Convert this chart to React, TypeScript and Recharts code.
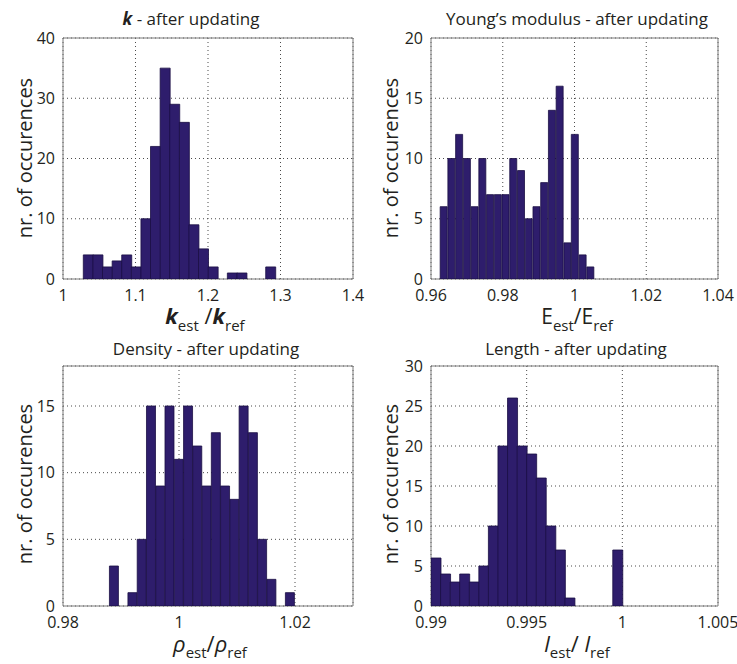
import React from "react";
import { BarChart, Bar, XAxis, YAxis, CartesianGrid, ReferenceArea } from "recharts";

const FONT = '"Open Sans", "DejaVu Sans", sans-serif';
const INK = "#231f20";
const BAR_FILL = "#2e1d6c";
const BAR_EDGE = "#1b0f44";

// Stiffness k: bin centres and occurrence counts
const kBins = [
  1.0346, 1.0479, 1.0611, 1.0744, 1.0876, 1.1008, 1.1141, 1.1273, 1.1406, 1.1538,
  1.1671, 1.1803, 1.1935, 1.2068, 1.22, 1.2333, 1.2465, 1.2598, 1.273, 1.2862,
];
const kCounts = [4, 4, 2, 3, 4, 2, 10, 22, 35, 29, 26, 9, 5, 2, 0, 1, 1, 0, 0, 2];
const kXTicks = [1, 1.1, 1.2, 1.3, 1.4];
const kYTicks = [0, 10, 20, 30, 40];

// Young's modulus E
const eBins = [
  0.96359, 0.96574, 0.9679, 0.97006, 0.97221, 0.97437, 0.97652, 0.97868, 0.98083, 0.98299,
  0.98515, 0.9873, 0.98946, 0.99161, 0.99377, 0.99592, 0.99808, 1.00015, 1.00232, 1.00448,
];
const eCounts = [6, 10, 12, 10, 6, 10, 7, 7, 7, 10, 9, 5, 6, 8, 14, 16, 3, 12, 2, 1];
const eXTicks = [0.96, 0.98, 1, 1.02, 1.04];
const eYTicks = [0, 5, 10, 15, 20];

// Density rho
const rhoBins = [
  0.9888, 0.9904, 0.99199, 0.99359, 0.99519, 0.99679, 0.99838, 0.99998, 1.00158, 1.00317,
  1.00477, 1.00637, 1.00796, 1.00956, 1.01116, 1.01276, 1.01435, 1.01595, 1.01755, 1.01914,
];
const rhoCounts = [3, 0, 1, 5, 15, 9, 15, 11, 15, 12, 9, 13, 9, 8, 15, 13, 5, 2, 0, 1];
const rhoXTicks = [0.98, 1, 1.02];
const rhoYTicks = [0, 5, 10, 15];

// Length l
const lBins = [
  0.99025, 0.99075, 0.99125, 0.99175, 0.99225, 0.99275, 0.99325, 0.99375, 0.99425, 0.99475,
  0.99525, 0.99575, 0.99625, 0.99675, 0.99725, 0.99775, 0.99825, 0.99875, 0.99925, 0.99975,
];
const lCounts = [6, 4, 3, 4, 3, 5, 10, 20, 26, 20, 19, 16, 10, 7, 1, 0, 0, 0, 0, 7];
const lXTicks = [0.99, 0.995, 1, 1.005];
const lYTicks = [0, 5, 10, 15, 20, 25, 30];

type HistProps = {
  bins: number[];
  counts: number[];
  xDomain: [number, number];
  xTicks: number[];
  yDomain: [number, number];
  yTicks: number[];
  left: number;
  top: number;
  width: number;
  height: number;
  marginTop: number;
  marginRight: number;
  xAxisHeight: number;
};

const tickStyle = { fill: INK, fontSize: 16, fontFamily: FONT };

function Histogram(p: HistProps) {
  const data = p.bins.map((x, i) => ({ x, n: p.counts[i] }));
  return (
    <div style={{ position: "absolute", left: p.left, top: p.top }}>
      <BarChart
        width={p.width}
        height={p.height}
        data={data}
        margin={{ top: p.marginTop, right: p.marginRight, bottom: 0, left: 0 }}
        barCategoryGap={0}
        barGap={0}
      >
        <CartesianGrid stroke="#4a4a4a" strokeDasharray="1 3" strokeWidth={1} />
        <XAxis
          type="number"
          dataKey="x"
          domain={p.xDomain}
          ticks={p.xTicks}
          interval={0}
          allowDataOverflow
          height={p.xAxisHeight}
          tickLine={false}
          axisLine={false}
          tickMargin={5}
          tick={tickStyle}
        />
        <YAxis
          type="number"
          domain={p.yDomain}
          ticks={p.yTicks}
          interval={0}
          allowDataOverflow
          width={63}
          tickLine={false}
          axisLine={false}
          tick={tickStyle}
        />
        <Bar dataKey="n" fill={BAR_FILL} stroke={BAR_EDGE} strokeWidth={0.8} isAnimationActive={false} />
        <ReferenceArea
          x1={p.xDomain[0]}
          x2={p.xDomain[1]}
          y1={p.yDomain[0]}
          y2={p.yDomain[1]}
          fill="none"
          stroke="#7a7a7a"
          strokeWidth={1}
        />
      </BarChart>
    </div>
  );
}

const labelFont = { fontFamily: FONT, fill: INK };

export default function App() {
  return (
    <div style={{ position: "absolute", left: 0, top: 0, width: 737, height: 664, background: "#fff" }}>
      <Histogram
        bins={kBins}
        counts={kCounts}
        xDomain={[1, 1.4]}
        xTicks={kXTicks}
        yDomain={[0, 40]}
        yTicks={kYTicks}
        left={0}
        top={0}
        width={368}
        height={310}
        marginTop={38}
        marginRight={15}
        xAxisHeight={31}
      />
      <Histogram
        bins={eBins}
        counts={eCounts}
        xDomain={[0.96, 1.04]}
        xTicks={eXTicks}
        yDomain={[0, 20]}
        yTicks={eYTicks}
        left={368}
        top={0}
        width={369}
        height={310}
        marginTop={38}
        marginRight={19}
        xAxisHeight={31}
      />
      <Histogram
        bins={rhoBins}
        counts={rhoCounts}
        xDomain={[0.98, 1.03]}
        xTicks={rhoXTicks}
        yDomain={[0, 18]}
        yTicks={rhoYTicks}
        left={0}
        top={330}
        width={368}
        height={308}
        marginTop={36}
        marginRight={15}
        xAxisHeight={32}
      />
      <Histogram
        bins={lBins}
        counts={lCounts}
        xDomain={[0.99, 1.005]}
        xTicks={lXTicks}
        yDomain={[0, 30]}
        yTicks={lYTicks}
        left={368}
        top={330}
        width={369}
        height={308}
        marginTop={36}
        marginRight={19}
        xAxisHeight={32}
      />

      <svg
        width={737}
        height={664}
        style={{ position: "absolute", left: 0, top: 0, pointerEvents: "none" }}
      >
        {/* panel titles */}
        <text x={191} y={25} textAnchor="middle" fontSize={17} {...labelFont}>
          <tspan fontWeight="bold" fontStyle="italic">k</tspan> - after updating
        </text>
        <text x={577} y={25} textAnchor="middle" fontSize={17} {...labelFont}>
          Young’s modulus - after updating
        </text>
        <text x={206} y={355} textAnchor="middle" fontSize={17} {...labelFont}>
          Density - after updating
        </text>
        <text x={576} y={355} textAnchor="middle" fontSize={17} {...labelFont}>
          Length - after updating
        </text>

        {/* y axis labels */}
        <text transform="translate(32,158) rotate(-90)" textAnchor="middle" fontSize={20} {...labelFont}>
          nr. of occurences
        </text>
        <text transform="translate(398,158) rotate(-90)" textAnchor="middle" fontSize={20} {...labelFont}>
          nr. of occurences
        </text>
        <text transform="translate(32,484) rotate(-90)" textAnchor="middle" fontSize={20} {...labelFont}>
          nr. of occurences
        </text>
        <text transform="translate(398,484) rotate(-90)" textAnchor="middle" fontSize={20} {...labelFont}>
          nr. of occurences
        </text>

        {/* x axis labels */}
        <text x={205} y={324} textAnchor="middle" fontSize={22} {...labelFont}>
          <tspan fontWeight="bold" fontStyle="italic">k</tspan>
          <tspan fontSize={15} dy={7}>est</tspan>
          <tspan dy={-7}> /</tspan>
          <tspan fontWeight="bold" fontStyle="italic">k</tspan>
          <tspan fontSize={15} dy={7}>ref</tspan>
        </text>
        <text x={577} y={324} textAnchor="middle" fontSize={21} {...labelFont}>
          <tspan>E</tspan>
          <tspan fontSize={15} dy={7}>est</tspan>
          <tspan dy={-7}>/E</tspan>
          <tspan fontSize={15} dy={7}>ref</tspan>
        </text>
        <text x={210} y={652} textAnchor="middle" fontSize={22} {...labelFont}>
          <tspan fontStyle="italic">ρ</tspan>
          <tspan fontSize={15} dy={6}>est</tspan>
          <tspan dy={-6}>/</tspan>
          <tspan fontStyle="italic">ρ</tspan>
          <tspan fontSize={15} dy={6}>ref</tspan>
        </text>
        <text x={577} y={652} textAnchor="middle" fontSize={22} {...labelFont}>
          <tspan fontStyle="italic">l</tspan>
          <tspan fontSize={15} dy={6}>est</tspan>
          <tspan dy={-6}>/ </tspan>
          <tspan fontStyle="italic">l</tspan>
          <tspan fontSize={15} dy={6}>ref</tspan>
        </text>
      </svg>
    </div>
  );
}
